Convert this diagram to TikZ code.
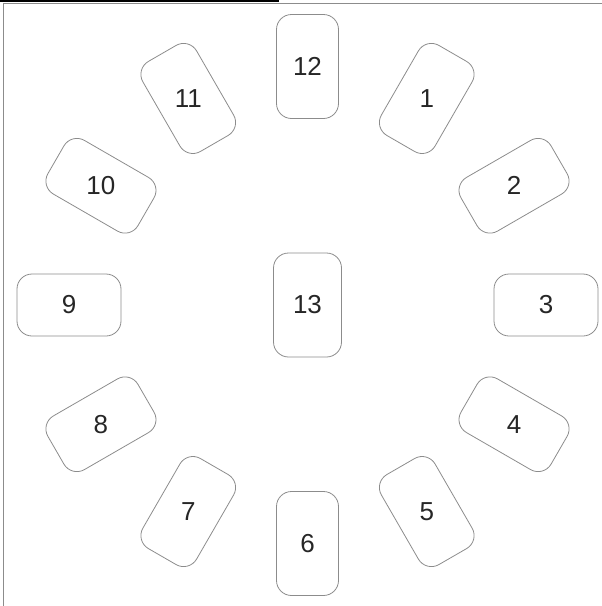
\documentclass[tikz,border=0pt]{standalone}
\usepackage{fontspec}
\setmainfont{Liberation Sans}
\usepackage{tikz}
\usetikzlibrary{calc}

\begin{document}
\begin{tikzpicture}[
    x=1pt, y=-1pt,
    every node/.style={font=\fontsize{26}{30}\selectfont, text=black!85},
    card/.style={draw=black!45, line width=0.8pt, rounded corners=15pt,
      minimum width=62pt, minimum height=104pt, inner sep=0pt},
    rim/.style={draw=black!45, line width=1pt},
  ]
  \useasboundingbox (0,0) rectangle (602,606);
  % frame
  \draw[line width=1.6pt] (0,0.8) -- (279,0.8);
  \draw[rim] (602,3) -- (3,3) -- (3,606);
  \coordinate (mid) at (307.5,305);
  % clock cards
  \foreach \n in {1,...,12} {
    \pgfmathsetmacro{\ang}{30*\n-90}
    \node[card, rotate=-30*\n] (c\n) at ($(mid)+(\ang:238.5)$) {};
    \node (n\n) at (c\n) {\n};
  }
  \node[card, minimum width=68pt] (c13) at (mid) {};
  \node (n13) at (c13) {13};
\end{tikzpicture}
\end{document}
